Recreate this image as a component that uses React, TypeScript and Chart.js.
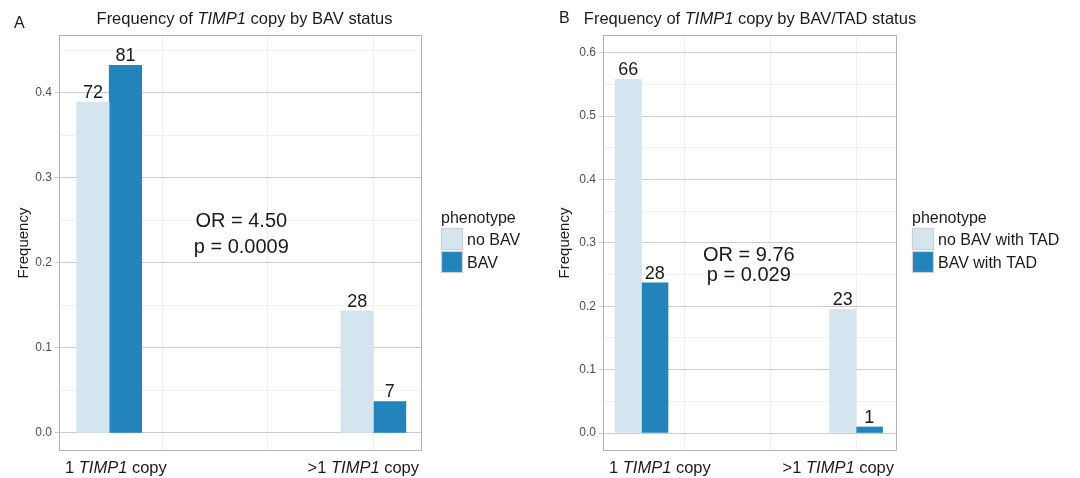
import { useEffect, useRef } from "react";
import { Chart, registerables } from "chart.js";

Chart.register(...registerables);

const FAMILY = "'Liberation Sans', Arial, sans-serif";
const TEXT = "#1a1a1a";
const LIGHT = "#d5e5ef";
const DARK = "#2383bb";

// ---- data ----
const categoryParts = [
  [{ t: "1 " }, { t: "TIMP1", i: true }, { t: " copy" }],
  [{ t: ">1 " }, { t: "TIMP1", i: true }, { t: " copy" }],
];
const categoryX = [1, 2];

const aGroups = ["no BAV", "BAV"];
const aNoBav = [0.389, 0.1435];
const aBav = [0.432, 0.037];
const aNoBavCounts = [72, 28];
const aBavCounts = [81, 7];
const aYTicks = [0, 0.1, 0.2, 0.3, 0.4];
const aStats = ["OR = 4.50", "p = 0.0009"];

const bGroups = ["no BAV with TAD", "BAV with TAD"];
const bNoBav = [0.558, 0.195];
const bBav = [0.237, 0.0095];
const bNoBavCounts = [66, 23];
const bBavCounts = [28, 1];
const bYTicks = [0, 0.1, 0.2, 0.3, 0.4, 0.5, 0.6];
const bStats = ["OR = 9.76", "p = 0.029"];

const xGridValues = [1.2, 1.6, 2.0];

type Part = { t: string; i?: boolean };

function drawRich(ctx: CanvasRenderingContext2D, parts: Part[], x: number, y: number, align: string, size: number, color: string) {
  const widths = parts.map((p) => {
    ctx.font = `${p.i ? "italic " : ""}${size}px ${FAMILY}`;
    return ctx.measureText(p.t).width;
  });
  const total = widths.reduce((a, b) => a + b, 0);
  let cx = align === "center" ? x - total / 2 : align === "right" ? x - total : x;
  ctx.fillStyle = color;
  ctx.textAlign = "left";
  ctx.textBaseline = "alphabetic";
  parts.forEach((p, k) => {
    ctx.font = `${p.i ? "italic " : ""}${size}px ${FAMILY}`;
    ctx.fillText(p.t, cx, y);
    cx += widths[k];
  });
}

type Spec = {
  letter: string;
  letterX: number;
  letterY: number;
  titleParts: Part[];
  titleDx: number;
  groups: string[];
  s1: number[];
  s2: number[];
  c1: number[];
  c2: number[];
  yTicks: number[];
  yMin: number;
  yMax: number;
  xMin: number;
  xMax: number;
  barThickness: number;
  padLeft: number;
  padRight: number;
  stats: string[];
  statsY: number[];
  yTitleX: number;
  legendX: number;
};

function Panel({ spec, left }: { spec: Spec; left: number }) {
  const ref = useRef<HTMLCanvasElement>(null);
  useEffect(() => {
    const canvas = ref.current;
    if (!canvas) return;
    const minor: number[] = [];
    for (let k = 0; k < spec.yTicks.length; k++) {
      minor.push(spec.yTicks[k]);
      if (k < spec.yTicks.length - 1) minor.push((spec.yTicks[k] + spec.yTicks[k + 1]) / 2);
    }
    const last = spec.yTicks[spec.yTicks.length - 1];
    const step = spec.yTicks[1] - spec.yTicks[0];
    if (last + step / 2 < spec.yMax) minor.push(last + step / 2);
    const isMajor = (v: number) => spec.yTicks.some((t) => Math.abs(t - v) < 1e-9);

    const overlay = {
      id: "overlay",
      afterDatasetsDraw(chart: any) {
        const ctx: CanvasRenderingContext2D = chart.ctx;
        const a = chart.chartArea;
        const xs = chart.scales.x;
        const ys = chart.scales.y;
        ctx.save();
        // panel border
        ctx.strokeStyle = "#b3b3b3";
        ctx.lineWidth = 1;
        ctx.strokeRect(Math.round(a.left) + 0.5, Math.round(a.top) + 0.5, Math.round(a.right - a.left) - 1, Math.round(a.bottom - a.top) - 1);

        // value labels
        ctx.font = `18px ${FAMILY}`;
        ctx.fillStyle = TEXT;
        ctx.textAlign = "center";
        ctx.textBaseline = "alphabetic";
        const counts = [spec.c1, spec.c2];
        chart.data.datasets.forEach((_: any, di: number) => {
          const meta = chart.getDatasetMeta(di);
          meta.data.forEach((bar: any, i: number) => {
            ctx.fillText(String(counts[di][i]), bar.x, bar.y - 4);
          });
        });

        // stats annotation
        ctx.font = `20px ${FAMILY}`;
        spec.stats.forEach((s, k) => {
          ctx.fillText(s, xs.getPixelForValue(1.5), ys.getPixelForValue(spec.statsY[k]));
        });

        // title + letter
        ctx.font = `16px ${FAMILY}`;
        ctx.textAlign = "left";
        ctx.fillText(spec.letter, spec.letterX, spec.letterY);
        drawRich(ctx, spec.titleParts, (a.left + a.right) / 2 + spec.titleDx, 24, "center", 16.5, TEXT);

        // x labels
        drawRich(ctx, categoryParts[0], a.left + 6, 473, "left", 16.5, TEXT);
        drawRich(ctx, categoryParts[1], a.right - 3, 473, "right", 16.5, TEXT);

        // y title
        ctx.save();
        ctx.translate(spec.yTitleX, (a.top + a.bottom) / 2);
        ctx.rotate(-Math.PI / 2);
        ctx.font = `15px ${FAMILY}`;
        ctx.textAlign = "center";
        ctx.fillStyle = TEXT;
        ctx.fillText("Frequency", 0, 0);
        ctx.restore();

        // legend
        const lx = spec.legendX;
        ctx.font = `16px ${FAMILY}`;
        ctx.textAlign = "left";
        ctx.fillStyle = TEXT;
        ctx.fillText("phenotype", lx, 223);
        const colors = [LIGHT, DARK];
        spec.groups.forEach((g, k) => {
          const ky = 228 + k * 23;
          ctx.fillStyle = colors[k];
          ctx.fillRect(lx, ky, 22, 22);
          ctx.strokeStyle = "#cfcfcf";
          ctx.lineWidth = 1.2;
          ctx.strokeRect(lx + 0.5, ky + 0.5, 21, 21);
          ctx.fillStyle = TEXT;
          ctx.fillText(g, lx + 26, ky + 17);
        });
        ctx.restore();
      },
    };

    const chart = new Chart(canvas, {
      type: "bar",
      data: {
        datasets: [
          {
            label: spec.groups[0],
            data: categoryX.map((x, i) => ({ x, y: spec.s1[i] })),
            backgroundColor: LIGHT,
            borderWidth: 0,
            barThickness: spec.barThickness,
          },
          {
            label: spec.groups[1],
            data: categoryX.map((x, i) => ({ x, y: spec.s2[i] })),
            backgroundColor: DARK,
            borderWidth: 0,
            barThickness: spec.barThickness,
          },
        ],
      },
      options: {
        animation: false,
        responsive: false,
        devicePixelRatio: 1,
        layout: { padding: { left: spec.padLeft, right: spec.padRight, top: 35, bottom: 27 } },
        plugins: { legend: { display: false }, tooltip: { enabled: false }, title: { display: false } },
        scales: {
          x: {
            type: "linear",
            min: spec.xMin,
            max: spec.xMax,
            offset: false,
            bounds: "data",
            afterBuildTicks: (s: any) => {
              s.ticks = xGridValues.map((v) => ({ value: v }));
            },
            afterFit: (s: any) => {
              s.height = 0;
            },
            ticks: { display: false },
            border: { display: false },
            grid: { color: "#efefef", drawTicks: false, lineWidth: 1, offset: false },
          },
          y: {
            type: "linear",
            min: spec.yMin,
            max: spec.yMax,
            bounds: "data",
            afterBuildTicks: (s: any) => {
              s.ticks = minor.map((v) => ({ value: v }));
            },
            afterFit: (s: any) => {
              s.width = 30;
            },
            border: { display: false },
            grid: {
              color: (c: any) => (c.tick && isMajor(c.tick.value) ? "#cccccc" : "#f1f1f1"),
              tickColor: (c: any) => (c.tick && isMajor(c.tick.value) ? "#cccccc" : "rgba(0,0,0,0)"),
              tickLength: 4,
              lineWidth: 1,
            },
            ticks: {
              padding: 3,
              color: "#4d4d4d",
              font: { size: 12, family: FAMILY },
              callback: (v: any) => (isMajor(Number(v)) ? Number(v).toFixed(1) : ""),
            },
          },
        },
      } as any,
      plugins: [overlay],
    });
    return () => chart.destroy();
  }, [spec]);
  return (
    <div style={{ position: "absolute", left, top: 0, width: 540, height: 478 }}>
      <canvas ref={ref} width={540} height={478} style={{ display: "block" }} />
    </div>
  );
}

const specA: Spec = {
  letter: "A",
  letterX: 14,
  letterY: 28,
  titleParts: [{ t: "Frequency of " }, { t: "TIMP1", i: true }, { t: " copy by BAV status" }],
  titleDx: 4,
  groups: aGroups,
  s1: aNoBav,
  s2: aBav,
  c1: aNoBavCounts,
  c2: aBavCounts,
  yTicks: aYTicks,
  yMin: -0.0212,
  yMax: 0.4677,
  xMin: 0.81,
  xMax: 2.184,
  barThickness: 32.5,
  padLeft: 29,
  padRight: 118,
  stats: aStats,
  statsY: [0.242, 0.211],
  yTitleX: 28,
  legendX: 441,
};

const specB: Spec = {
  letter: "B",
  letterX: 19,
  letterY: 23,
  titleParts: [{ t: "Frequency of " }, { t: "TIMP1", i: true }, { t: " copy by BAV/TAD status" }],
  titleDx: 0,
  groups: bGroups,
  s1: bNoBav,
  s2: bBav,
  c1: bNoBavCounts,
  c2: bBavCounts,
  yTicks: bYTicks,
  yMin: -0.0284,
  yMax: 0.628,
  xMin: 0.8205,
  xMax: 2.191,
  barThickness: 26.5,
  padLeft: 33,
  padRight: 183,
  stats: bStats,
  statsY: [0.272, 0.24],
  yTitleX: 29,
  legendX: 372,
};

export default function App() {
  return (
    <div style={{ position: "absolute", left: 0, top: 0, width: 1080, height: 478, background: "#ffffff", overflow: "hidden" }}>
      <Panel spec={specA} left={0} />
      <Panel spec={specB} left={540} />
    </div>
  );
}
